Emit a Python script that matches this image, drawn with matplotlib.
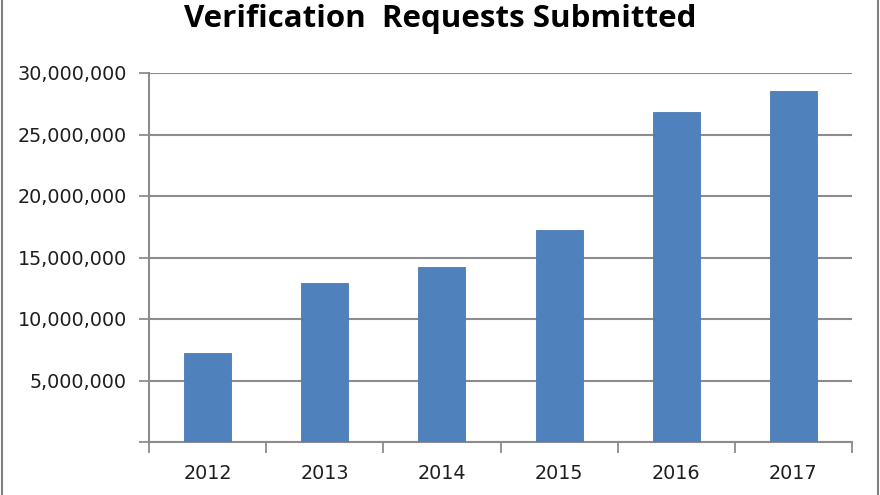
import numpy as np
import matplotlib
matplotlib.use("Agg")
import matplotlib.pyplot as plt
from matplotlib.lines import Line2D
from matplotlib.ticker import FuncFormatter

years = ["2012", "2013", "2014", "2015", "2016", "2017"]
requests = [7260000, 12950000, 14250000, 17240000, 26800000, 28560000]
yticks = [0, 5000000, 10000000, 15000000, 20000000, 25000000, 30000000]

plt.rcParams['font.family'] = ['DejaVu Sans']

fig = plt.figure(figsize=(8.8, 4.95), dpi=100)
ax = fig.add_axes([149/880, 1 - 442/495, (852 - 149)/880, (442 - 73)/495])

x = np.arange(len(years))
ax.bar(x, requests, width=0.4, color='#4f81bd', edgecolor='#4a7ab5', linewidth=0.6, zorder=3)

grid_c = '#8c8c8c'
ax.set_ylim(0, 30000000)
ax.set_xlim(-0.5, len(years) - 0.5)
ax.set_yticks(yticks)
ax.yaxis.set_major_formatter(FuncFormatter(lambda v, p: "" if v == 0 else "{:,.0f}".format(v)))
ax.grid(axis='y', color=grid_c, linewidth=1.5, zorder=0)

# category boundaries get the tick marks, labels sit in between
ax.set_xticks(np.arange(-0.5, len(years), 1.0))
ax.set_xticklabels([])
ax.set_xticks(x, minor=True)
ax.set_xticklabels(years, minor=True)
ax.tick_params(axis='x', which='major', length=8, width=1.3, color=grid_c, direction='out')
ax.tick_params(axis='x', which='minor', length=0, pad=16, labelsize=13.8, labelcolor='#1e1e1e')
ax.tick_params(axis='y', length=7, width=1.3, color=grid_c, direction='out', pad=9,
               labelsize=13.8, labelcolor='#1e1e1e')

for s in ['top', 'right']:
    ax.spines[s].set_visible(False)
for s in ['left', 'bottom']:
    ax.spines[s].set_color(grid_c)
    ax.spines[s].set_linewidth(1.5)

fig.text(0.5, 1 - 27/495, "Verification  Requests Submitted", ha='center', va='baseline',
         fontsize=22.5, fontweight='bold', color='black', family='Open Sans')

# outer frame lines at left and right edges
fig.add_artist(Line2D([2/880, 2/880], [0, 1], color='#7f7f7f', linewidth=1.5, transform=fig.transFigure))
fig.add_artist(Line2D([878/880, 878/880], [0, 1], color='#7f7f7f', linewidth=1.5, transform=fig.transFigure))

fig.savefig("out.png", dpi=100)
